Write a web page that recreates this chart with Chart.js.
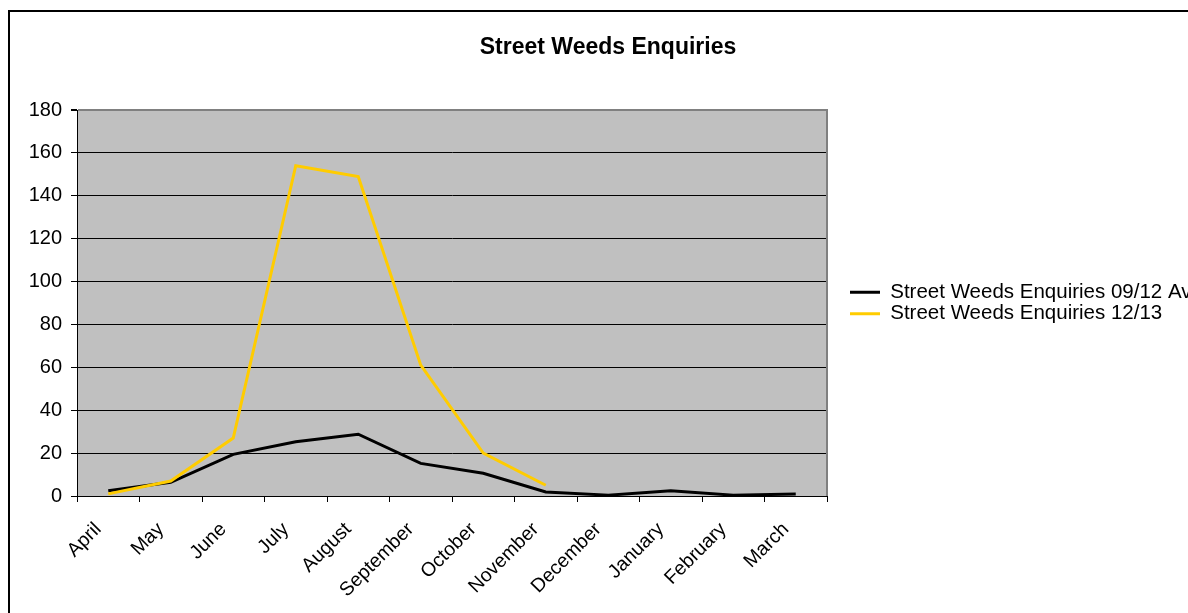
<!DOCTYPE html>
<html>
<head>
<meta charset="utf-8">
<title>Street Weeds Enquiries</title>
<script src="https://cdn.jsdelivr.net/npm/chart.js@4/dist/chart.umd.min.js"></script>
<style>
  html, body { margin: 0; padding: 0; background: #ffffff; overflow: hidden; }
  #frame {
    position: absolute; left: 8px; top: 10px;
    border-left: 2px solid #000; border-top: 2px solid #000;
  }
  #chart { display: block; }
</style>
</head>
<body>
<div id="frame"><canvas id="chart" width="1196" height="601"></canvas></div>
<script>
// Months of the reporting year (April to March)
const months = ['April', 'May', 'June', 'July', 'August', 'September',
                'October', 'November', 'December', 'January', 'February', 'March'];

// Average monthly enquiries over 2009/10 - 2011/12
const average0912 = [2.5, 6.4, 19.4, 25.3, 28.8, 15.2, 10.6, 1.9, 0.4, 2.4, 0.4, 0.9];

// Monthly enquiries in 2012/13 (year in progress)
const enquiries1213 = [1, 7, 27, 154, 149, 61, 20, 5, null, null, null, null];

const seriesNames = ['Street Weeds Enquiries 09/12 Average', 'Street Weeds Enquiries 12/13'];
const yAxisMax = 180;
const yAxisStep = 20;

const FONT = '"Liberation Sans", Arial, sans-serif';

// Grey plot background and the grey right-hand edge of the plot
const plotBackdrop = {
  id: 'plotBackdrop',
  beforeDraw(chart) {
    const { ctx, chartArea: a } = chart;
    ctx.save();
    ctx.fillStyle = '#c0c0c0';
    ctx.fillRect(a.left, a.top, a.right - a.left, a.bottom - a.top);
    ctx.restore();
  },
  beforeDatasetsDraw(chart) {
    const { ctx, chartArea: a } = chart;
    ctx.save();
    ctx.strokeStyle = '#808080';
    ctx.lineWidth = 2;
    ctx.beginPath();
    ctx.moveTo(a.right, a.top - 1);
    ctx.lineTo(a.right, a.bottom);
    ctx.stroke();
    ctx.restore();
  }
};

new Chart(document.getElementById('chart'), {
  type: 'line',
  data: {
    labels: months,
    datasets: [
      {
        label: seriesNames[0],
        data: average0912,
        borderColor: '#000000',
        backgroundColor: '#000000',
        borderWidth: 3,
        pointRadius: 0,
        tension: 0,
        order: 2
      },
      {
        label: seriesNames[1],
        data: enquiries1213,
        borderColor: '#ffcc00',
        backgroundColor: '#ffcc00',
        borderWidth: 3,
        pointRadius: 0,
        tension: 0,
        spanGaps: false,
        order: 1
      }
    ]
  },
  options: {
    responsive: false,
    animation: false,
    layout: { padding: 0 },
    plugins: {
      title: {
        display: true,
        text: 'Street Weeds Enquiries',
        color: '#000',
        font: { family: FONT, size: 23, weight: 'bold' },
        padding: { top: 21.5, bottom: 48.9 }
      },
      legend: {
        display: true,
        position: 'right',
        fullSize: false,
        align: 'center',
        maxWidth: 357,
        labels: {
          usePointStyle: true,
          pointStyle: 'line',
          pointStyleWidth: 30,
          padding: 1,
          color: '#000',
          font: { family: FONT, size: 20.5 },
          sort: (a, b) => a.datasetIndex - b.datasetIndex
        }
      },
      tooltip: { enabled: false }
    },
    scales: {
      x: {
        type: 'category',
        offset: true,
        grid: {
          offset: true,
          drawOnChartArea: false,
          drawTicks: true,
          tickLength: 6,
          color: '#000',
          lineWidth: 1
        },
        border: { display: true, color: '#000', width: 1 },
        ticks: {
          autoSkip: false,
          minRotation: 45,
          maxRotation: 45,
          padding: 16,
          labelOffset: -10,
          color: '#000',
          font: { family: FONT, size: 19.5 }
        },
        afterFit(scale) { scale.height = 117; }
      },
      y: {
        min: 0,
        max: yAxisMax,
        grid: {
          color: ctx => (ctx.tick && ctx.tick.value === yAxisMax ? '#808080' : '#000'),
          lineWidth: ctx => (ctx.tick && ctx.tick.value === yAxisMax ? 2 : 1),
          tickColor: '#000',
          tickLength: 6,
          drawTicks: true
        },
        border: { display: true, color: '#000', width: 1 },
        ticks: {
          stepSize: yAxisStep,
          padding: 9,
          color: '#000',
          font: { family: FONT, size: 20 }
        },
        afterFit(scale) { scale.width = 67; }
      },
      // spacer between the plot and the legend
      gap: {
        type: 'linear',
        position: 'right',
        display: true,
        grid: { display: false },
        border: { display: false },
        ticks: { display: false },
        afterFit(scale) { scale.width = 22; }
      }
    }
  },
  plugins: [plotBackdrop]
});
</script>
</body>
</html>
